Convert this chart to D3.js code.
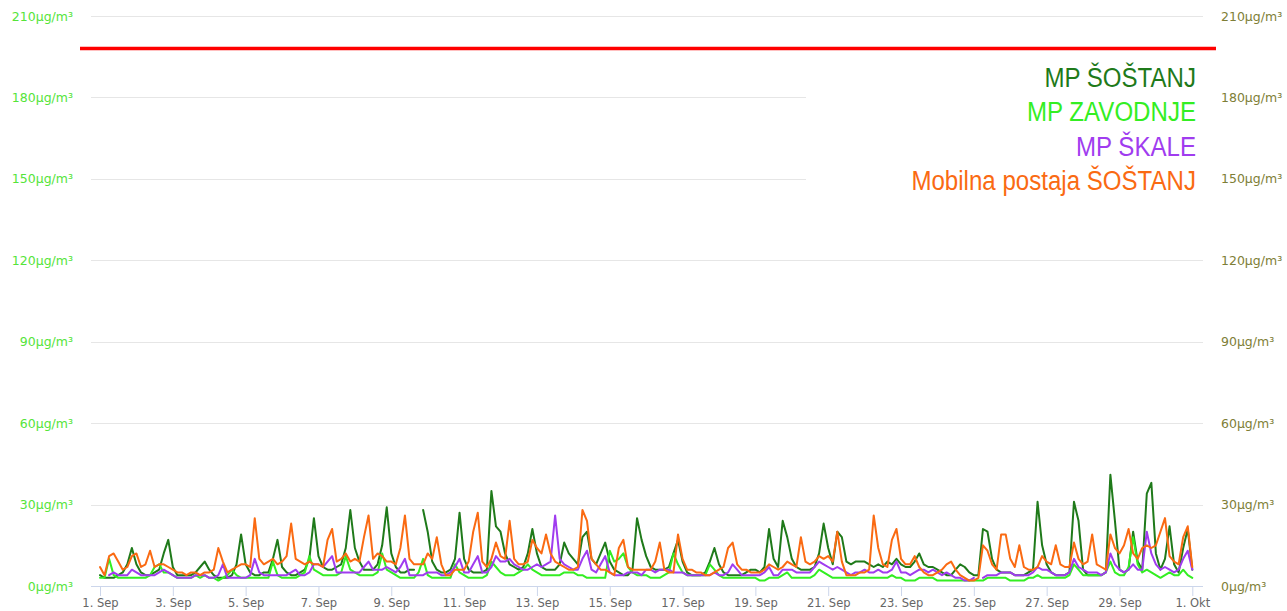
<!DOCTYPE html>
<html><head><meta charset="utf-8">
<script src="https://cdn.jsdelivr.net/npm/d3@7"></script>
<style>html,body{margin:0;padding:0;background:#fff;overflow:hidden}</style>
</head><body><svg id="c" width="1287" height="611"></svg>
<script>
// ---- data (3-hourly values, 1 Sep 00:00 .. 1 Okt 00:00) ----
const seriesNames = ["MP ŠOŠTANJ", "MP ZAVODNJE", "MP ŠKALE", "Mobilna postaja ŠOŠTANJ"];
const seriesColors = ["#1f7a1a", "#33ee22", "#a03cef", "#fa6a12"];
const sostanj = [
 4,3,3,3,4,5,8,14, 8,5,4,4,5,6,12,17, 7,4,4,4,4,5,7,9, 6,4,3,3,3,4,8,19, 8,5,4,4,5,5,10,17,
 7,5,4,4,5,6,10,25, 11,7,6,6,7,8,14,28, 14,9,6,6,6,8,15,29, 12,7,5,5,6,6,null,28, 20,9,6,5,5,6,10,27,
 10,6,5,5,5,6,35,22, 20,12,8,7,6,7,12,21, 12,7,6,6,6,8,16,12, 10,8,18,20,10,8,12,16, 9,6,5,4,4,6,25,17,
 11,7,6,6,6,7,12,17, 9,5,4,4,4,5,9,14, 8,5,4,4,4,4,5,6, 6,5,7,21,10,7,24,18, 10,7,6,6,6,7,12,23,
 14,8,20,18,9,8,9,9, 9,8,7,8,7,9,8,10, 8,7,7,9,12,8,7,7, 6,5,4,4,6,8,7,5, 4,4,21,20,10,6,5,5,
 5,4,4,4,5,6,31,15, 8,5,4,4,4,5,31,24, 6,4,4,4,4,5,41,24, 6,5,6,20,9,6,34,38, 12,6,10,22,8,5,14,21,
 6];
const zavodnje = [
 3,3,10,4,3,3,3,3, 3,3,3,4,7,8,5,5, 4,3,3,3,3,4,3,4, 3,3,2,3,4,6,4,3, 3,3,3,3,3,3,9,4,
 3,3,3,3,4,5,11,6, 5,4,4,4,4,5,11,6, 5,4,4,4,4,5,12,6, 5,4,3,3,3,3,5,10, 4,3,3,3,3,3,8,5,
 4,3,3,3,3,4,9,7, 5,4,4,4,5,6,8,6, 5,4,4,4,4,4,5,5, 5,4,4,3,3,3,3,3, 13,9,10,12,7,5,4,4,
 4,3,3,3,4,5,12,8, 5,4,4,4,4,4,8,6, 4,3,3,3,3,3,3,3, 3,2,2,3,3,3,4,5, 3,3,3,3,3,4,6,5,
 4,3,3,3,3,3,3,3, 3,3,3,3,3,3,4,3, 3,2,2,2,3,3,3,3, 2,2,2,2,2,2,2,2, 2,2,2,3,3,3,3,3,
 2,2,2,2,3,3,4,3, 3,3,3,3,3,4,8,6, 4,4,4,4,4,5,9,5, 4,4,7,18,8,5,6,5, 4,3,4,5,4,4,6,4,
 3];
const skale = [
 null,null,4,5,4,4,4,6, 5,4,4,4,4,5,6,5, 4,3,3,3,3,4,4,4, 3,3,4,8,3,3,3,3, 3,4,10,5,4,4,4,4,
 4,4,5,6,4,4,5,8, 8,7,9,11,5,5,5,5, 5,5,7,9,6,6,6,7, 6,5,7,10,4,4,4,4, 5,5,5,4,4,5,7,10,
 5,5,8,11,5,5,7,11, 9,9,10,8,7,6,6,7, 8,7,8,9,26,10,8,7, 6,6,10,13,6,5,8,11, 5,4,4,4,5,5,5,4,
 6,6,5,6,6,6,5,5, 5,4,4,4,4,4,4,5, 4,4,5,8,6,4,4,4, 4,4,5,7,4,4,6,6, 6,5,5,5,5,7,9,8,
 7,6,7,6,5,4,5,5, 6,5,5,6,5,5,6,9, 5,5,4,5,6,6,5,6, 5,4,5,4,3,3,2,2, 3,null,3,4,4,4,5,5,
 5,4,4,4,4,5,7,6, 6,5,4,4,4,5,10,7, 6,5,5,5,4,5,12,8, 6,5,6,8,6,6,20,12, 8,6,7,6,5,6,10,13,
 6];
const mobilna = [
 7,4,11,12,9,6,7,11, 12,7,8,13,7,8,8,7, 6,5,5,4,5,5,4,5, 5,6,14,9,5,6,7,8, 8,7,25,10,8,9,10,8,
 9,11,23,10,9,8,9,8, 8,7,17,21,9,10,12,9, 10,9,18,26,10,12,11,9, 9,8,14,26,10,8,8,8, 12,10,18,8,4,4,6,6,
 6,9,20,27,9,7,10,16, 11,10,24,10,8,8,9,17, 14,12,19,12,9,8,7,6, 6,7,28,24,10,8,6,6, 5,4,14,17,7,6,6,6,
 6,6,9,16,6,5,5,19, 10,6,6,5,5,4,4,5, 6,7,14,16,8,6,6,5, 5,5,6,8,7,6,7,9, 8,7,18,9,8,9,11,10,
 11,9,20,9,4,4,4,5, 5,6,26,14,8,7,17,21, 10,8,8,11,7,5,4,4, 5,6,8,9,6,4,3,2, 2,3,15,13,8,6,19,19,
 10,7,15,7,6,6,7,11, 9,8,15,8,7,7,16,10, 8,9,19,8,7,6,19,14, 12,15,21,12,10,14,15,14, 15,20,25,11,9,8,18,22,
 7];
const yTicks = [0, 30, 60, 90, 120, 150, 180, 210];
const xTickDays = [1, 3, 5, 7, 9, 11, 13, 15, 17, 19, 21, 23, 25, 27, 29, 31];
const xTickLabels = ["1. Sep","3. Sep","5. Sep","7. Sep","9. Sep","11. Sep","13. Sep","15. Sep","17. Sep","19. Sep","21. Sep","23. Sep","25. Sep","27. Sep","29. Sep","1. Okt"];
const limitValue = 198;

// ---- chart ----
const svg = d3.select("#c");
const t0 = Date.UTC(2023, 8, 1);
const dayMs = 86400000;
const x = d3.scaleUtc().domain([new Date(t0), new Date(t0 + 30 * dayMs)]).range([100, 1192.3]);
const y = d3.scaleLinear().domain([0, 210]).range([586, 16]);
const plotL = 91, plotR = 1203;

// gridlines
svg.append("g").selectAll("line").data(yTicks.filter(v => v > 0)).join("line")
  .attr("x1", plotL).attr("x2", plotR)
  .attr("y1", d => Math.round(y(d)) + 0.5).attr("y2", d => Math.round(y(d)) + 0.5)
  .attr("stroke", "#e6e6e6").attr("stroke-width", 1);

// left axis labels
svg.append("g").selectAll("text").data(yTicks).join("text")
  .attr("x", 73).attr("y", d => y(d)).attr("dy", "0.36em")
  .attr("text-anchor", "end")
  .attr("font-family", "DejaVu Sans, Verdana, sans-serif").attr("font-size", 12.5)
  .attr("fill", "#55e43a")
  .text(d => d + "µg/m³");
// right axis labels
svg.append("g").selectAll("text").data(yTicks).join("text")
  .attr("x", 1221).attr("y", d => y(d)).attr("dy", "0.36em")
  .attr("text-anchor", "start")
  .attr("font-family", "DejaVu Sans, Verdana, sans-serif").attr("font-size", 12.5)
  .attr("fill", "#7e7e36")
  .text(d => d + "µg/m³");

// x axis
const xTickDates = xTickDays.map(d => new Date(t0 + (d - 1) * dayMs));
const xAxis = d3.axisBottom(x).tickValues(xTickDates)
  .tickFormat((d, i) => xTickLabels[i]).tickSize(10).tickSizeOuter(0);
const gx = svg.append("g").attr("transform", "translate(0,586)").call(xAxis);
gx.select(".domain").remove();
gx.selectAll(".tick line").attr("stroke", "#ccd6eb");
gx.selectAll(".tick text").attr("fill", "#666666").attr("font-size", 11.5)
  .attr("font-family", "DejaVu Sans, Verdana, sans-serif").attr("dy", "0.95em").attr("y", 10);
svg.append("line").attr("x1", plotL).attr("x2", plotR).attr("y1", 586.5).attr("y2", 586.5)
  .attr("stroke", "#ccd6eb");

// lines
const allSeries = [sostanj, zavodnje, skale, mobilna];
const line = d3.line()
  .defined(d => d.v !== null)
  .x(d => x(d.t)).y(d => y(d.v));
allSeries.forEach((vals, si) => {
  const pts = vals.map((v, i) => ({ t: new Date(t0 + i * 3 * 3600000), v }));
  svg.append("path").datum(pts)
    .attr("d", line).attr("fill", "none")
    .attr("stroke", seriesColors[si]).attr("stroke-width", 2)
    .attr("stroke-linejoin", "round").attr("stroke-linecap", "round");
});

// legend background + labels
svg.append("rect").attr("x", 806).attr("y", 54).attr("width", plotR - 806 + 1).attr("height", 148)
  .attr("fill", "#ffffff");
const legY = [86.7, 121.3, 155.8, 190.3];
seriesNames.forEach((n, i) => {
  svg.append("text")
    .attr("transform", `translate(1196,${legY[i]}) scale(0.86,1)`)
    .attr("text-anchor", "end")
    .attr("font-family", "Liberation Sans, Arial, sans-serif")
    .attr("font-size", 28)
    .attr("fill", seriesColors[i])
    .text(n);
});

// limit line
svg.append("line").attr("x1", 80).attr("x2", 1216)
  .attr("y1", y(limitValue)).attr("y2", y(limitValue))
  .attr("stroke", "#ff0000").attr("stroke-width", 3.5);
</script></body></html>
